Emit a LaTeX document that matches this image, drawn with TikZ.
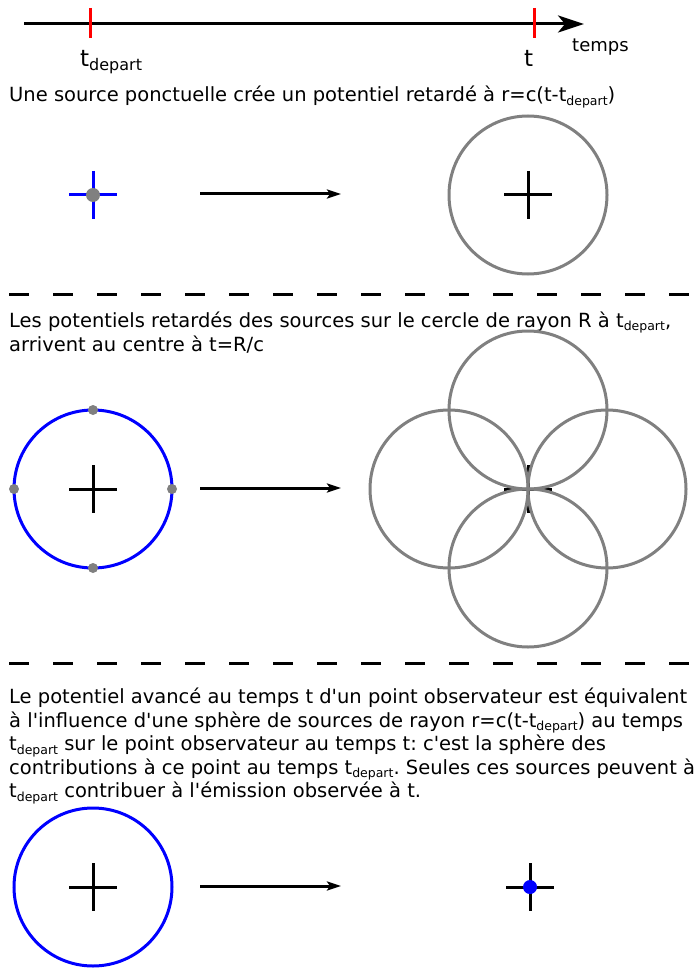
\documentclass[tikz,border=0pt]{standalone}
\usepackage{fontspec}
\setmainfont{DejaVu Sans}[Ligatures=TeXOff]
\usetikzlibrary{arrows.meta}
\frenchspacing
\newcommand\tdepart[1][12.5]{t\raisebox{-0.3ex}{\fontsize{#1}{#1}\selectfont depart}}
\tikzset{axis/.style={-{Stealth[length=26pt,width=17pt,inset=7pt]},line width=3pt},
tick/.style={line width=3pt,red},
ray/.style={-{Stealth[length=14pt,width=9pt,inset=3pt]},line width=3pt},
cross/.style={line width=3pt},
wave/.style={line width=3pt,gray},
shell/.style={line width=3pt,blue},
sep/.style={line width=3pt,dash pattern=on 20pt off 24pt},
lab/.style={font=\fontsize{19.5}{23.5}\selectfont,anchor=north west,align=left,inner sep=0pt}}

\begin{document}
\begin{tikzpicture}[x=1pt,y=-1pt]
\useasboundingbox (0,0) rectangle (694,968);
% time axis
\coordinate (t0) at (24,24);
\coordinate (t1) at (584,24);
\draw[axis] (t0) -- (t1);
\draw[tick] (90,8) -- (90,38) (534,8) -- (534,38);
\node[anchor=base west,inner sep=0pt,font=\fontsize{23}{23}\selectfont] (ldep) at (80,67) {\tdepart[16]};
\node[anchor=base west,inner sep=0pt,font=\fontsize{23}{23}\selectfont] (lt) at (524,67) {t};
\node[anchor=base west,inner sep=0pt,font=\fontsize{18}{18}\selectfont] (ltemps) at (572,52) {temps};
% point source
\node[lab,anchor=base west] (txta) at (9,102) {Une source ponctuelle crée un potentiel retardé à r=c(t-\tdepart)};
\coordinate (sa) at (93,195);
\coordinate (oa) at (528,195);
\coordinate (aa) at (200,194);
\coordinate (ba) at (341,194);
\draw[cross,blue] (sa) ++(-24,0) -- ++(48,0) (sa) ++(0,-24) -- ++(0,48);
\fill[gray] (sa) circle[radius=7pt];
\draw[ray] (aa) -- (ba);
\draw[cross] (oa) ++(-24,0) -- ++(48,0) (oa) ++(0,-24) -- ++(0,48);
\draw[wave] (oa) circle[radius=79pt];
\draw[sep] (9,294) -- (694,294);
% ring of sources
\node[lab] (txtb) at (9,312) {Les potentiels retardés des sources sur le cercle de rayon R à \tdepart,\\arrivent au centre à t=R/c};
\coordinate (sb) at (93,489);
\coordinate (ob) at (528,489);
\coordinate (ab) at (200,488);
\coordinate (bb) at (341,488);
\draw[cross] (sb) ++(-24,0) -- ++(48,0) (sb) ++(0,-24) -- ++(0,48);
\draw[shell] (sb) circle[radius=79pt];
\foreach \a in {0,90,180,270}
 {\fill[gray] (sb) ++(\a:79pt) circle[radius=5pt];}
\draw[ray] (ab) -- (bb);
\draw[cross] (ob) ++(-24,0) -- ++(48,0) (ob) ++(0,-24) -- ++(0,48);
\foreach \a in {0,90,180,270}
 {\draw[wave] (ob) ++(\a:79pt) circle[radius=79pt];}
\draw[sep] (9,663) -- (694,663);
% advanced potential
\node[lab] (txtc) at (9,688) {Le potentiel avancé au temps t d'un point observateur est équivalent\\
à l'influence d'une sphère de sources de rayon r=c(t-\tdepart) au temps\\
\tdepart{} sur le point observateur au temps t: c'est la sphère des\\
contributions à ce point au temps \tdepart. Seules ces sources peuvent à\\
\tdepart{} contribuer à l'émission observée à t.};
\coordinate (sc) at (93,887);
\coordinate (oc) at (530,887);
\coordinate (ac) at (200,886);
\coordinate (bc) at (341,886);
\draw[cross] (sc) ++(-24,0) -- ++(48,0) (sc) ++(0,-24) -- ++(0,48);
\draw[shell] (sc) circle[radius=79pt];
\draw[ray] (ac) -- (bc);
\draw[cross] (oc) ++(-24,0) -- ++(48,0) (oc) ++(0,-24) -- ++(0,48);
\fill[blue] (oc) circle[radius=7pt];
\end{tikzpicture}
\end{document}
